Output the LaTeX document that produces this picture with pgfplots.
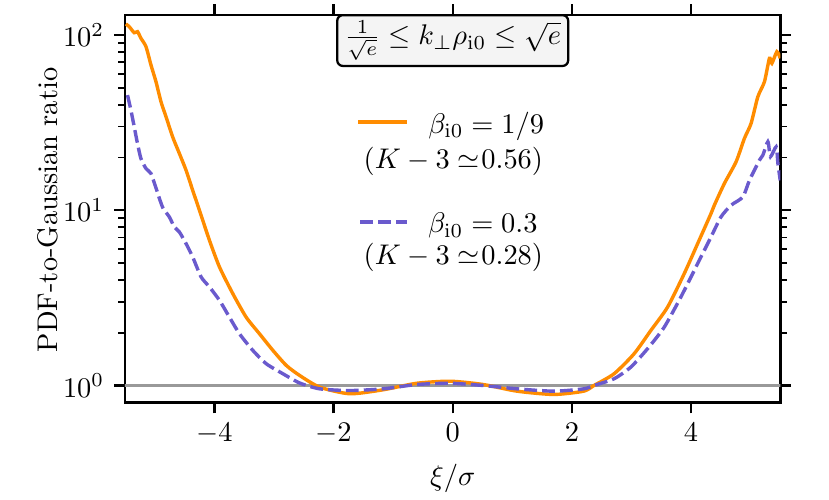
\documentclass[border=0pt]{standalone}
\usepackage{pgfplots}
\pgfplotsset{compat=1.18}
\definecolor{dorange}{RGB}{255,140,0}
\definecolor{sblue}{RGB}{106,90,205}
\definecolor{refgray}{RGB}{153,153,153}
\definecolor{boxfill}{RGB}{244,244,244}

\pgfplotstableread{
x y
-5.485 115.6
-5.429 111.5
-5.345 103
-5.290 104.4
-5.232 95.7
-5.148 85.8
-5.064 67.4
-4.980 54.1
-4.896 41.6
-4.811 34.1
-4.700 26.2
-4.588 21.1
-4.475 16.9
-4.364 13.0
-4.251 10.0
-4.083 6.74
-3.914 4.74
-3.690 3.34
-3.465 2.45
-3.241 1.97
-3.017 1.585
-2.791 1.30
-2.567 1.14
-2.231 0.978
-1.726 0.897
-1.170 0.945
-0.603 1.03
-0.042 1.058
0.513 1.013
1.081 0.928
1.697 0.889
2.197 0.928
2.370 1.0
2.707 1.166
3.044 1.517
3.325 2.06
3.606 2.80
3.886 4.35
4.111 6.45
4.335 9.57
4.391 10.68
4.559 14.2
4.756 18.9
4.896 25.7
5.008 31.3
5.121 44.4
5.232 54.1
5.316 73.6
5.357 68.9
5.441 80.3
5.497 73.6
}\orangedata

\pgfplotstableread{
x y
-5.458 45.4
-5.401 37.3
-5.345 29.9
-5.290 24.0
-5.232 19.7
-5.148 17.3
-5.064 16.2
-4.980 13.4
-4.869 10.4
-4.756 9.16
-4.672 8.03
-4.588 7.52
-4.475 6.45
-4.364 5.41
-4.222 4.16
-4.083 3.65
-3.914 3.06
-3.746 2.45
-3.577 1.97
-3.354 1.585
-3.128 1.33
-2.848 1.166
-2.567 1.033
-2.231 0.957
-1.726 0.936
-1.170 0.957
-0.603 1.013
-0.042 1.03
0.513 1.0
1.081 0.957
1.697 0.928
2.197 0.957
2.370 1.0
2.707 1.092
2.988 1.272
3.269 1.62
3.549 2.15
3.830 3.20
4.111 4.96
4.335 7.04
4.503 9.16
4.672 10.68
4.869 11.9
4.980 14.8
5.148 19.3
5.205 20.6
5.290 24.6
5.333 20.2
5.429 23.0
5.458 18.5
5.497 14.8
}\purpledata

\begin{document}
\begin{tikzpicture}
\begin{axis}[
  scale only axis,
  width=230.7pt, height=136.4pt,
  ymode=log,
  xmin=-5.5, xmax=5.5, ymin=0.8, ymax=130,
  xtick={-4,-2,0,2,4}, ytick={1,10,100},
  tick align=outside,
  major tick length=3.8pt, minor tick length=2.3pt,
  axis line style={line width=0.8pt},
  every tick/.style={black, line width=0.8pt},
  every minor tick/.append style={line width=0.6pt},
  xlabel={$\xi/\sigma$},
  ylabel={PDF-to-Gaussian ratio},
  xlabel style={at={(axis description cs:0.5,-0.197)}, anchor=center},
  ylabel style={at={(axis description cs:-0.118,0.497)}, anchor=center},
]
\addplot[refgray, line width=0.9pt, forget plot] coordinates {(-6,1) (6,1)};
\addplot[dorange, line width=1.2pt, smooth, tension=0.4] table[x=x,y=y] {\orangedata};
\addplot[sblue, line width=1.2pt, dash pattern=on 4.5pt off 1.8pt, smooth, tension=0.4] table[x=x,y=y] {\purpledata};

\node[draw=black, line width=0.8pt, rounded corners=2pt, fill=boxfill, inner xsep=2.5pt, inner ysep=2pt]
  at (axis description cs:0.5,0.934) {$\frac{1}{\sqrt{e}} \leq k_\perp \rho_{\mathrm{i0}} \leq \sqrt{e}$};

\draw[dorange, line width=1.2pt] (axis description cs:0.356,0.724) -- (axis description cs:0.4305,0.724);
\node[anchor=center, inner sep=1pt] at (axis description cs:0.551,0.712) {$\beta_{\mathrm{i0}} = 1/9$};
\node[anchor=center, inner sep=1pt] at (axis description cs:0.501,0.621) {$(K-3\simeq\mkern-4mu 0.56)$};

\draw[sblue, line width=1.2pt, dash pattern=on 4.5pt off 1.8pt] (axis description cs:0.359,0.466) -- (axis description cs:0.4305,0.466);
\node[anchor=center, inner sep=1pt] at (axis description cs:0.546,0.456) {$\beta_{\mathrm{i0}} = 0.3$};
\node[anchor=center, inner sep=1pt] at (axis description cs:0.501,0.374) {$(K-3\simeq\mkern-4mu 0.28)$};
\end{axis}
\pgfresetboundingbox
\path ([xshift=-44pt,yshift=-34.3pt]current axis.south west) rectangle ([xshift=17.1pt,yshift=5.28pt]current axis.north east);
\end{tikzpicture}
\end{document}
